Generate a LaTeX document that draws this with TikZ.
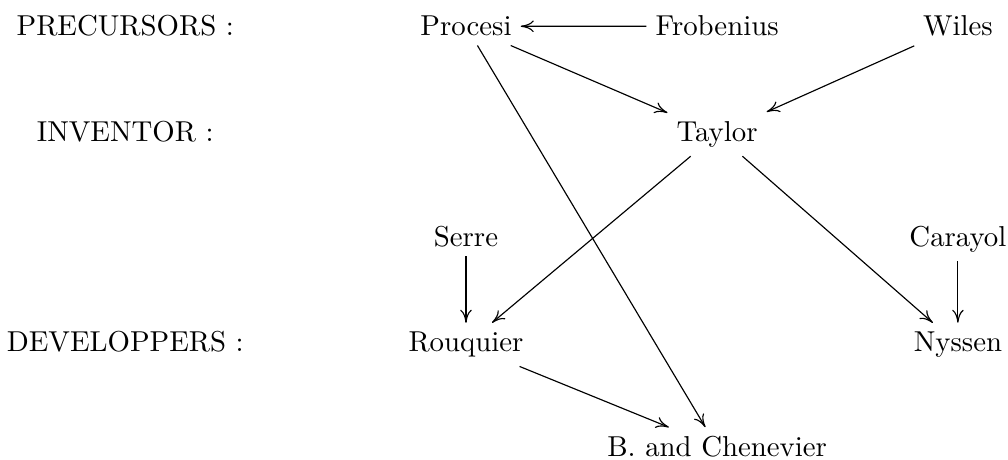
\documentclass[tikz,border=0pt]{standalone}
\usepackage{tikz}
\usetikzlibrary{arrows.meta}

\begin{document}
\begin{tikzpicture}[x=1pt,y=1pt,->,>={To[length=4.5pt,width=4pt]}]

  % styles
  \tikzstyle{level}=[anchor=base,inner sep=3pt]
  \tikzstyle{person}=[anchor=base,inner sep=3pt]

  \useasboundingbox (0,0) rectangle (350,-159.4);

  % row labels
  \node[level] (precursors) at (43.5,-12.5) {PRECURSORS :};
  \node[level] (inventor) at (43.5,-49) {INVENTOR :};
  \node[level] (developpers) at (43.5,-122.1) {DEVELOPPERS :};

  % mathematicians
  \node[person] (procesi) at (161.8,-12.5) {Procesi};
  \node[person] (frobenius) at (249,-12.5) {Frobenius};
  \node[person] (wiles) at (332.6,-12.5) {Wiles};
  \node[person] (taylor) at (249,-49) {Taylor};
  \node[person] (serre) at (161.8,-85.5) {Serre};
  \node[person] (carayol) at (332.6,-85.5) {Carayol};
  \node[person] (rouquier) at (161.8,-122.1) {Rouquier};
  \node[person] (nyssen) at (332.6,-122.1) {Nyssen};
  \node[person] (chenevier) at (249,-158.6) {B. and Chenevier};

  % influences
  \draw (frobenius) -- (procesi);
  \draw (procesi) -- (taylor);
  \draw (wiles) -- (taylor);
  \draw (procesi) -- (chenevier);
  \draw (taylor) -- (rouquier);
  \draw (taylor) -- (nyssen);
  \draw (serre) -- (rouquier);
  \draw (carayol) -- (nyssen);
  \draw (rouquier) -- (chenevier);

\end{tikzpicture}
\end{document}
